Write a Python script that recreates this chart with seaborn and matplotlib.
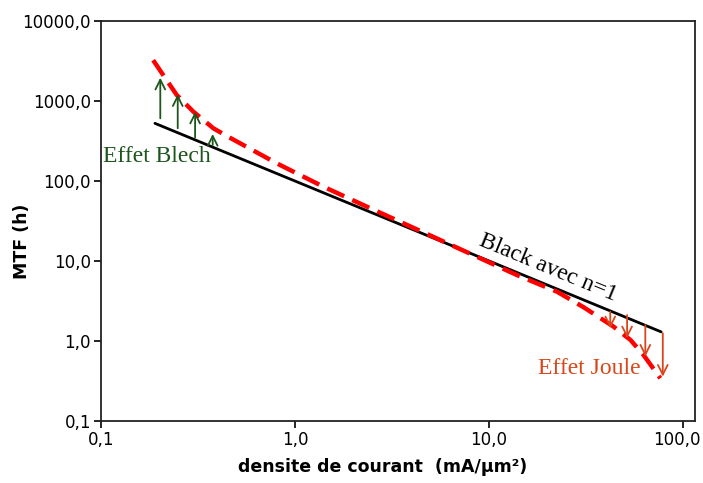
import matplotlib
matplotlib.use("Agg")
import matplotlib.pyplot as plt
import matplotlib.ticker as mticker
import matplotlib.transforms as mtransforms
import numpy as np
import pandas as pd
import seaborn as sns

# Black's law with n = 1 (straight line in log-log)
current_black = [0.19, 77.0]
mtf_black = [526.0, 1.30]

# Measured / modelled MTF including Blech and Joule effects
current_red = [0.186, 0.246, 0.300, 0.380, 0.450, 0.522, 0.807, 1.40, 2.35,
               5.6, 13.9, 22.4, 30.7, 43.8, 53.5, 62.5, 76.2]
mtf_red = [3240, 1190, 735, 456, 360, 296, 166, 85.0, 47.7,
           18.3, 6.68, 4.13, 2.64, 1.51, 1.03, 0.668, 0.342]

# Blech-effect arrows (current, MTF start, MTF end)
blech_current = [0.2025, 0.249, 0.306, 0.377]
blech_from = [608, 456, 348, 282]
blech_to = [1955, 1213, 735, 387]

# Joule-effect arrows
joule_current = [42.1, 51.4, 63.8, 78.5]
joule_from = [2.32, 2.11, 1.58, 1.25]
joule_to = [1.44, 1.08, 0.637, 0.358]

x_ticks = [0.1, 1, 10, 100]
y_ticks = [0.1, 1, 10, 100, 1000, 10000]

GREEN = "#1d561d"
ORANGE = "#d9461b"

sns.set_style("ticks")
plt.rcParams["font.family"] = ["DejaVu Sans"]
plt.rcParams["text.color"] = "black"
plt.rcParams["axes.labelcolor"] = "black"

fig = plt.figure(figsize=(7.03, 4.83), dpi=100)
ax = fig.add_axes([0.1434, 0.1284, 0.8452, 0.8281])

black_df = pd.DataFrame({"J": current_black, "MTF": mtf_black})
red_df = pd.DataFrame({"J": current_red, "MTF": mtf_red})

sns.lineplot(data=black_df, x="J", y="MTF", ax=ax, color="black",
             linewidth=2.0, sort=False, zorder=3)
sns.lineplot(data=red_df, x="J", y="MTF", ax=ax, color="#ff0000",
             linewidth=3.2, sort=False, zorder=4, dashes=False)
ax.lines[-1].set_dashes([4.2, 2.0])
ax.lines[-1].set_dash_capstyle("butt")

ax.set_xscale("log")
ax.set_yscale("log")
ax.set_xlim(0.1, 115)
ax.set_ylim(0.1, 10000)

fmt = mticker.FuncFormatter(lambda v, p: f"{v:.1f}".replace(".", ","))
ax.xaxis.set_major_locator(mticker.FixedLocator(x_ticks))
ax.yaxis.set_major_locator(mticker.FixedLocator(y_ticks))
ax.xaxis.set_minor_locator(mticker.NullLocator())
ax.yaxis.set_minor_locator(mticker.NullLocator())
ax.xaxis.set_major_formatter(fmt)
ax.yaxis.set_major_formatter(fmt)
ax.tick_params(axis="both", which="major", labelsize=12, length=5,
               width=1.2, direction="out", colors="black", pad=2)

for s in ax.spines.values():
    s.set_visible(True)
    s.set_linewidth(1.3)
    s.set_color("#222222")

ax.set_xlabel("densite de courant  (mA/µm²)", fontsize=12.5,
              fontweight="bold", color="black")
ax.set_ylabel("MTF (h)", fontsize=12.5, fontweight="bold", color="black")
ax.xaxis.set_label_coords(0.475, -0.092)
ax.yaxis.set_label_coords(-0.118, 0.45)

# keep the last x tick label inside the figure
fig.canvas.draw()
last = ax.get_xticklabels()[-1]
last.set_transform(last.get_transform() +
                   mtransforms.ScaledTranslation(-6 / 100, 0,
                                                 fig.dpi_scale_trans))

arrow_kw = dict(arrowstyle="->,head_length=0.7,head_width=0.35",
                linewidth=1.3, shrinkA=0, shrinkB=0)
for j, a, b in zip(blech_current, blech_from, blech_to):
    ax.annotate("", xy=(j, b), xytext=(j, a),
                arrowprops=dict(color=GREEN, **arrow_kw), zorder=5)
for j, a, b in zip(joule_current, joule_from, joule_to):
    ax.annotate("", xy=(j, b), xytext=(j, a),
                arrowprops=dict(color=ORANGE, **arrow_kw), zorder=5)

serif = ["Liberation Serif", "DejaVu Serif"]
ax.text(0.1026, 200, "Effet Blech", color=GREEN, fontsize=17,
        family=serif, ha="left", va="center")
ax.text(17.9, 0.447, "Effet Joule", color=ORANGE, fontsize=17,
        family=serif, ha="left", va="center")
ax.text(20.2, 8.2, "Black avec n=1", color="black", fontsize=17,
        family=serif, ha="center", va="center", rotation=-22.4,
        rotation_mode="anchor")

fig.savefig("out.png", dpi=100, facecolor="white")
